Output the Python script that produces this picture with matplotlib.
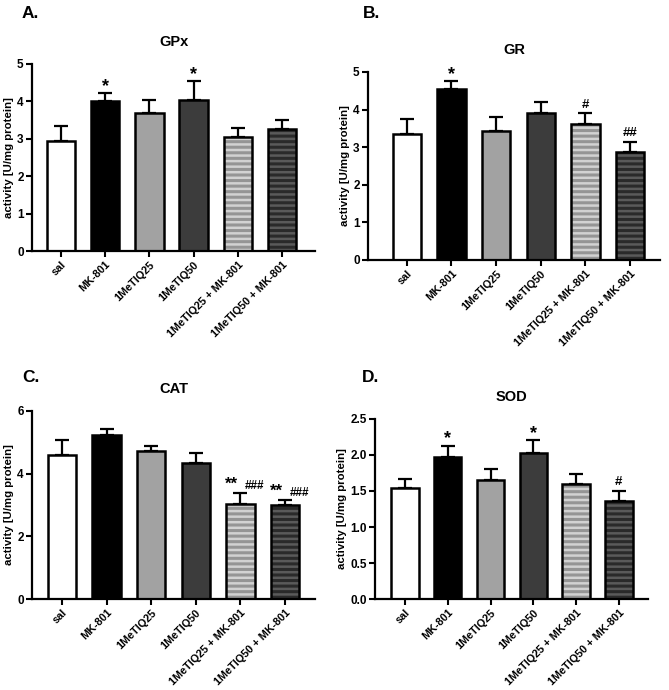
import matplotlib.pyplot as plt

plt.rcParams['font.family'] = ['Liberation Sans', 'DejaVu Sans']
plt.rcParams['font.weight'] = 'bold'
plt.rcParams['axes.titleweight'] = 'bold'
plt.rcParams['axes.labelweight'] = 'bold'
plt.rcParams['hatch.linewidth'] = 2.2

groups = ['sal', 'MK-801', '1MeTIQ25', '1MeTIQ50', '1MeTIQ25 + MK-801', '1MeTIQ50 + MK-801']

gpx_mean = [2.95, 4.00, 3.70, 4.03, 3.05, 3.25]
gpx_err = [0.40, 0.22, 0.33, 0.52, 0.23, 0.25]
gpx_marks = ['', '*', '', '*', '', '']

gr_mean = [3.35, 4.54, 3.44, 3.92, 3.61, 2.88]
gr_err = [0.41, 0.22, 0.35, 0.28, 0.29, 0.26]
gr_marks = ['', '*', '', '', '#', '##']

cat_mean = [4.61, 5.22, 4.71, 4.34, 3.03, 3.00]
cat_err = [0.47, 0.21, 0.18, 0.32, 0.35, 0.16]
cat_marks = ['', '', '', '', '**|###', '**|###']

sod_mean = [1.546, 1.97, 1.65, 2.03, 1.60, 1.36]
sod_err = [0.115, 0.16, 0.16, 0.18, 0.14, 0.14]
sod_marks = ['', '*', '', '*', '', '#']

face = ['white', 'black', '#a2a2a2', '#3c3c3c', '#d2d2d2', '#5a5a5a']
stripe = [None, None, None, None, '#959595', '#2a2a2a']

W, H = 669, 690
fig = plt.figure(figsize=(W / 100, H / 100), dpi=100)


def px_axes(l, t, r, b):
    return fig.add_axes([l / W, 1 - b / H, (r - l) / W, (b - t) / H])


def panel(ax, mean, err, marks, title, ylim, yticks, xlim, fmt='%d'):
    x = list(range(len(groups)))
    for i in x:
        if stripe[i]:
            ax.bar(x[i], mean[i], 0.64, color=face[i], edgecolor=stripe[i],
                   hatch='---', linewidth=0, zorder=2)
            ax.bar(x[i], mean[i], 0.64, facecolor='none', edgecolor='black',
                   linewidth=1.8, zorder=3)
        else:
            ax.bar(x[i], mean[i], 0.64, color=face[i], edgecolor='black',
                   linewidth=1.8, zorder=2)
    ax.errorbar(x, mean, yerr=[[0] * len(x), err], fmt='none', ecolor='black',
                elinewidth=1.6, capsize=5, capthick=1.6, zorder=1)
    span = ylim[1] - ylim[0]
    for i in x:
        top = mean[i] + err[i]
        if '|' in marks[i]:
            a, b = marks[i].split('|')
            ax.text(x[i] - 0.2, top + span * 0.005, a, ha='center', va='bottom',
                    fontsize=12, fontweight='bold')
            ax.text(x[i] + 0.32, top + span * 0.005, b, ha='center', va='bottom',
                    fontsize=8.5, fontweight='bold')
        elif marks[i].startswith('*'):
            ax.text(x[i], top - span * 0.01, marks[i], ha='center', va='bottom',
                    fontsize=13, fontweight='bold')
        elif marks[i]:
            ax.text(x[i], top + span * 0.015, marks[i], ha='center', va='bottom',
                    fontsize=9.5, fontweight='bold')
    ax.set_xlim(*xlim)
    ax.set_ylim(*ylim)
    ax.set_yticks(yticks)
    ax.set_yticklabels([fmt % v for v in yticks], fontweight='bold', fontsize=8.5)
    ax.set_xticks(x)
    ax.set_xticklabels(groups, rotation=45, ha='right', rotation_mode='anchor',
                       fontsize=7.8, fontweight='bold')
    ax.tick_params(width=1.5, length=4, direction='out', pad=2)
    for s in ['top', 'right']:
        ax.spines[s].set_visible(False)
    for s in ['left', 'bottom']:
        ax.spines[s].set_linewidth(1.6)
    ax.set_ylabel('activity [U/mg protein]', fontsize=8.2, fontweight='bold', labelpad=2)
    ax.set_title(title, fontsize=10.5, fontweight='bold', pad=13)


axA = px_axes(32, 64, 315, 251)
panel(axA, gpx_mean, gpx_err, gpx_marks, 'GPx', (0, 5), [0, 1, 2, 3, 4, 5], (-0.66, 5.75))
axB = px_axes(368, 72, 660, 260)
panel(axB, gr_mean, gr_err, gr_marks, 'GR', (0, 5), [0, 1, 2, 3, 4, 5], (-0.87, 5.67))
axC = px_axes(32, 411, 315, 599)
panel(axC, cat_mean, cat_err, cat_marks, 'CAT', (0, 6), [0, 2, 4, 6], (-0.67, 5.67))
axD = px_axes(375, 419, 648, 599)
panel(axD, sod_mean, sod_err, sod_marks, 'SOD', (0, 2.5), [0, 0.5, 1.0, 1.5, 2.0, 2.5],
      (-0.7, 5.68), fmt='%.1f')

for lab, x, y in [('A.', 22, 13), ('B.', 363, 13), ('C.', 22, 377), ('D.', 362, 378)]:
    fig.text(x / W, 1 - y / H, lab, fontsize=12.5, fontweight='bold', va='center')

fig.savefig('out.png', dpi=100)
